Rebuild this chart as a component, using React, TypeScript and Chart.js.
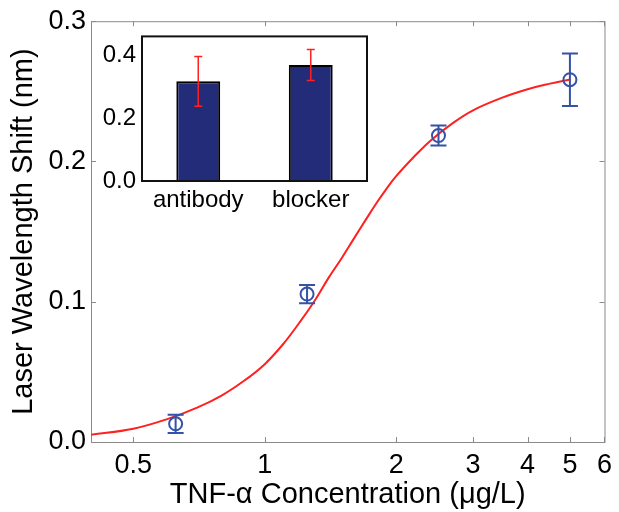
import React, { useEffect, useRef } from "react";
import { Chart, registerables } from "chart.js";
Chart.register(...registerables);

// ---- main chart data ----
const concentrations = [0.625, 1.25, 2.5, 5];
const shifts = [0.013, 0.1055, 0.2185, 0.2583];
const shiftErrors = [0.0065, 0.0065, 0.0072, 0.0187];

const fitX = [0.4, 0.5, 0.6, 0.7, 0.8, 0.9, 1.0, 1.1, 1.2, 1.3, 1.4, 1.5, 1.6, 1.7, 1.8, 1.9, 2.0, 2.2, 2.4, 2.7, 3.0, 3.5, 4.0, 4.5, 5.0];
const fitY = [0.0052, 0.0095, 0.0165, 0.0245, 0.0335, 0.044, 0.0555, 0.0695, 0.085, 0.1005, 0.117, 0.131, 0.145, 0.158, 0.17, 0.1805, 0.1895, 0.2035, 0.215, 0.2275, 0.2365, 0.2455, 0.2515, 0.2555, 0.2585];

const xTickValues = [0.5, 1, 2, 3, 4, 5, 6];
const yTickValues = [0, 0.1, 0.2, 0.3];

// ---- inset data ----
const insetCategories = ["antibody", "blocker"];
const insetValues = [0.317, 0.369];
const insetErrors = [0.079, 0.049];
const insetTicks = [0, 0.2, 0.4];

const FONT = "'Liberation Sans', Arial, Helvetica, sans-serif";
const BLUE = "#3552a8";
const RED = "#ff2020";

export default function App() {
  const mainRef = useRef<HTMLCanvasElement | null>(null);
  const insetRef = useRef<HTMLCanvasElement | null>(null);

  useEffect(() => {
    const mainCanvas = mainRef.current!;
    const insetCanvas = insetRef.current!;

    const mainPlugin = {
      id: "mainDecor",
      beforeDatasetsDraw(chart: any) {
        const { ctx, chartArea: a, scales } = chart;
        const xs = scales.x, ys = scales.y;
        ctx.save();
        ctx.strokeStyle = "#8a8a8a";
        ctx.lineWidth = 1;
        ctx.strokeRect(a.left + 0.5, a.top + 0.5, a.right - a.left, a.bottom - a.top);
        const tl = 5;
        ctx.beginPath();
        xTickValues.forEach((v) => {
          const px = Math.round(xs.getPixelForValue(v)) + 0.5;
          ctx.moveTo(px, a.bottom);
          ctx.lineTo(px, a.bottom - tl);
          ctx.moveTo(px, a.top);
          ctx.lineTo(px, a.top + tl);
        });
        yTickValues.forEach((v) => {
          const py = Math.round(ys.getPixelForValue(v)) + 0.5;
          ctx.moveTo(a.left, py);
          ctx.lineTo(a.left + tl, py);
          ctx.moveTo(a.right, py);
          ctx.lineTo(a.right - tl, py);
        });
        ctx.stroke();
        ctx.restore();
      },
      afterDatasetsDraw(chart: any) {
        const { ctx, scales } = chart;
        const xs = scales.x, ys = scales.y;
        ctx.save();
        ctx.strokeStyle = BLUE;
        ctx.lineWidth = 2;
        const cap = 8;
        concentrations.forEach((c, i) => {
          const px = xs.getPixelForValue(c);
          const top = ys.getPixelForValue(shifts[i] + shiftErrors[i]);
          const bot = ys.getPixelForValue(shifts[i] - shiftErrors[i]);
          ctx.beginPath();
          ctx.moveTo(px, top);
          ctx.lineTo(px, bot);
          ctx.moveTo(px - cap, top);
          ctx.lineTo(px + cap, top);
          ctx.moveTo(px - cap, bot);
          ctx.lineTo(px + cap, bot);
          ctx.stroke();
        });
        ctx.restore();
      },
    };

    const main = new Chart(mainCanvas, {
      type: "line",
      data: {
        datasets: [
          {
            label: "data",
            type: "scatter",
            data: concentrations.map((c, i) => ({ x: c, y: shifts[i] })),
            borderColor: BLUE,
            backgroundColor: "rgba(0,0,0,0)",
            pointRadius: 6.5,
            pointBorderWidth: 2,
            showLine: false,
            order: 0,
          } as any,
          {
            label: "fit",
            data: fitX.map((x, i) => ({ x, y: fitY[i] })),
            borderColor: RED,
            borderWidth: 2,
            pointRadius: 0,
            tension: 0.4,
            fill: false,
            order: 1,
          },
        ],
      },
      options: {
        responsive: false,
        animation: false,
        layout: { padding: { left: 0, right: 8, top: 17, bottom: 0 } },
        plugins: { legend: { display: false }, tooltip: { enabled: false } },
        scales: {
          x: {
            type: "logarithmic",
            min: 0.4,
            max: 6,
            grid: { display: false, drawTicks: false },
            border: { display: false },
            afterBuildTicks: (s: any) => {
              s.ticks = xTickValues.map((v) => ({ value: v }));
            },
            afterFit: (s: any) => {
              s.height = 70;
            },
            ticks: {
              autoSkip: false,
              maxRotation: 0,
              padding: 7,
              color: "#000",
              font: { family: FONT, size: 27 },
              callback: (v: any) => String(v),
            },
            title: {
              display: true,
              text: "TNF-\u03b1 Concentration (\u03bcg/L)",
              color: "#000",
              font: { family: FONT, size: 29 },
              padding: { top: 0, bottom: 0 },
            },
          },
          y: {
            type: "linear",
            min: 0,
            max: 0.3,
            grid: { display: false, drawTicks: false },
            border: { display: false },
            afterBuildTicks: (s: any) => {
              s.ticks = yTickValues.map((v) => ({ value: v }));
            },
            afterFit: (s: any) => {
              s.width = 91;
            },
            ticks: {
              padding: 5,
              color: "#000",
              font: { family: FONT, size: 27 },
              callback: (v: any) => Number(v).toFixed(1),
            },
            title: {
              display: true,
              text: "Laser Wavelength Shift (nm)",
              color: "#000",
              font: { family: FONT, size: 29 },
              padding: { top: 7, bottom: 0 },
            },
          },
        },
      },
      plugins: [mainPlugin],
    });

    const insetPlugin = {
      id: "insetDecor",
      beforeDraw(chart: any) {
        const { ctx, chartArea: a } = chart;
        ctx.save();
        ctx.fillStyle = "#fff";
        ctx.fillRect(a.left, a.top, a.right - a.left, a.bottom - a.top);
        ctx.restore();
      },
      afterDatasetsDraw(chart: any) {
        const { ctx, chartArea: a, scales } = chart;
        const xs = scales.x, ys = scales.y;
        ctx.save();
        ctx.strokeStyle = RED;
        ctx.lineWidth = 1.5;
        const cap = 4;
        insetValues.forEach((v, i) => {
          const px = xs.getPixelForValue(i);
          const top = ys.getPixelForValue(v + insetErrors[i]);
          const bot = ys.getPixelForValue(v - insetErrors[i]);
          ctx.beginPath();
          ctx.moveTo(px, top);
          ctx.lineTo(px, bot);
          ctx.moveTo(px - cap, top);
          ctx.lineTo(px + cap, top);
          ctx.moveTo(px - cap, bot);
          ctx.lineTo(px + cap, bot);
          ctx.stroke();
        });
        ctx.strokeStyle = "#111";
        ctx.lineWidth = 2;
        ctx.strokeRect(a.left, a.top, a.right - a.left, a.bottom - a.top);
        ctx.restore();
      },
    };

    const inset = new Chart(insetCanvas, {
      type: "bar",
      data: {
        labels: insetCategories,
        datasets: [
          {
            data: insetValues,
            backgroundColor: "#232c78",
            borderColor: "#000",
            borderWidth: 2,
            borderSkipped: "bottom",
            barPercentage: 0.39,
            categoryPercentage: 1,
          },
        ],
      },
      options: {
        responsive: false,
        animation: false,
        layout: { padding: { left: 0, right: 4, top: 0, bottom: 0 } },
        plugins: { legend: { display: false }, tooltip: { enabled: false } },
        scales: {
          x: {
            grid: { display: false, drawTicks: false },
            border: { display: false },
            afterFit: (s: any) => {
              s.height = 35;
            },
            ticks: {
              padding: 5,
              color: "#000",
              font: { family: FONT, size: 24 },
            },
          },
          y: {
            min: 0,
            max: 0.46,
            grid: { display: false, drawTicks: false },
            border: { display: false },
            afterBuildTicks: (s: any) => {
              s.ticks = insetTicks.map((v) => ({ value: v }));
            },
            afterFit: (s: any) => {
              s.width = 47;
            },
            ticks: {
              padding: 6,
              color: "#000",
              font: { family: FONT, size: 24 },
              callback: (v: any) => Number(v).toFixed(1),
            },
          },
        },
      },
      plugins: [insetPlugin],
    });

    return () => {
      main.destroy();
      inset.destroy();
    };
  }, []);

  return (
    <div style={{ position: "absolute", left: 0, top: 0, width: 619, height: 512, background: "#fff" }}>
      <canvas ref={mainRef} width={619} height={512} style={{ position: "absolute", left: 0, top: 0 }} />
      <canvas ref={insetRef} width={276} height={200} style={{ position: "absolute", left: 95, top: 16 }} />
    </div>
  );
}
